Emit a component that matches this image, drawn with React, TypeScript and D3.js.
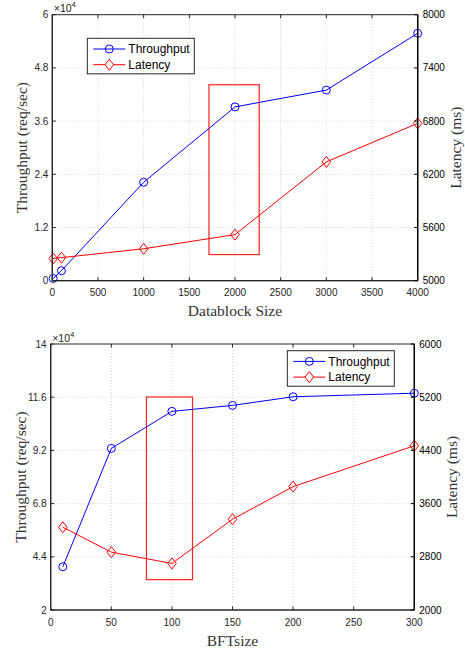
import { useEffect, useRef } from 'react';
import * as d3 from 'd3';

// Panel 1: Datablock size
const dbSizes = [10, 100, 1000, 2000, 3000, 4000];
const dbThroughput = [500, 2250, 22200, 39200, 43000, 55800];
const dbLatency = [5250, 5260, 5360, 5520, 6340, 6775];
const dbXTicks = [0, 500, 1000, 1500, 2000, 2500, 3000, 3500, 4000];
const dbYTicks = [0, 1.2, 2.4, 3.6, 4.8, 6];
const dbY2Ticks = [5000, 5600, 6200, 6800, 7400, 8000];
const dbBox = [1715, 2265, 5900, 44200];

// Panel 2: BFT size
const bftSizes = [10, 50, 100, 150, 200, 300];
const bftThroughput = [39500, 92900, 109600, 112300, 116200, 117800];
const bftLatency = [3245, 2870, 2700, 3365, 3855, 4470];
const bftXTicks = [0, 50, 100, 150, 200, 250, 300];
const bftYTicks = [2, 4.4, 6.8, 9.2, 11.6, 14];
const bftY2Ticks = [2000, 2800, 3600, 4400, 5200, 6000];
const bftBox = [79, 117, 33700, 116100];

const seriesNames = ['Throughput', 'Latency'];

interface PanelOpts {
  left: number; right: number; top: number; bottom: number;
  xs: number[]; thr: number[]; lat: number[];
  xTicks: number[]; yTicks: number[]; y2Ticks: number[];
  box: number[];
  xLabel: string;
  legend: [number, number];
}

const SANS = 'Liberation Sans, Arial, sans-serif';
const SERIF = 'Liberation Serif, Times New Roman, serif';

const diamond = (cx: number, cy: number) =>
  `M${cx},${cy - 5.5}L${cx + 4.3},${cy}L${cx},${cy + 5.5}L${cx - 4.3},${cy}Z`;

function drawPanel(root: d3.Selection<SVGGElement, unknown, null, undefined>, o: PanelOpts) {
  const x = d3.scaleLinear().domain([o.xTicks[0], o.xTicks[o.xTicks.length - 1]]).range([o.left, o.right]);
  const y = d3.scaleLinear().domain([o.yTicks[0] * 1e4, o.yTicks[o.yTicks.length - 1] * 1e4]).range([o.bottom, o.top]);
  const y2 = d3.scaleLinear().domain([o.y2Ticks[0], o.y2Ticks[o.y2Ticks.length - 1]]).range([o.bottom, o.top]);
  const g = root.append('g');

  // grid
  g.selectAll('.gx').data(o.xTicks.slice(1, -1)).enter().append('line')
    .attr('x1', d => x(d)).attr('x2', d => x(d)).attr('y1', o.top).attr('y2', o.bottom)
    .attr('stroke', '#c8c8c8').attr('stroke-width', 0.8).attr('stroke-dasharray', '1,2');
  g.selectAll('.gy').data(o.yTicks.slice(1, -1)).enter().append('line')
    .attr('x1', o.left).attr('x2', o.right).attr('y1', d => y(d * 1e4)).attr('y2', d => y(d * 1e4))
    .attr('stroke', '#c8c8c8').attr('stroke-width', 0.8).attr('stroke-dasharray', '1,2');

  // highlight box
  g.append('rect')
    .attr('x', x(o.box[0])).attr('y', y(o.box[3]))
    .attr('width', x(o.box[1]) - x(o.box[0])).attr('height', y(o.box[2]) - y(o.box[3]))
    .attr('fill', 'none').attr('stroke', '#ff2020').attr('stroke-width', 1.2);

  // lines
  const pts = o.xs.map((d, i) => ({ x: d, t: o.thr[i], l: o.lat[i] }));
  g.append('path').datum(pts)
    .attr('fill', 'none').attr('stroke', '#0000ff').attr('stroke-width', 1)
    .attr('d', d3.line<{ x: number; t: number }>().x(d => x(d.x)).y(d => y(d.t)));
  g.append('path').datum(pts)
    .attr('fill', 'none').attr('stroke', '#ff0000').attr('stroke-width', 1)
    .attr('d', d3.line<{ x: number; l: number }>().x(d => x(d.x)).y(d => y2(d.l)));
  g.selectAll('.mc').data(pts).enter().append('circle')
    .attr('cx', d => x(d.x)).attr('cy', d => y(d.t)).attr('r', 4)
    .attr('fill', 'none').attr('stroke', '#0000ff').attr('stroke-width', 1);
  g.selectAll('.md').data(pts).enter().append('path')
    .attr('d', d => diamond(x(d.x), y2(d.l)))
    .attr('fill', 'none').attr('stroke', '#ff0000').attr('stroke-width', 1);

  // axes frame
  g.append('rect')
    .attr('x', o.left).attr('y', o.top).attr('width', o.right - o.left).attr('height', o.bottom - o.top)
    .attr('fill', 'none').attr('stroke', '#262626').attr('stroke-width', 1);
  g.append('line').attr('x1', o.right).attr('x2', o.right).attr('y1', o.top).attr('y2', o.bottom)
    .attr('stroke', '#000').attr('stroke-width', 1.4);
  g.append('line').attr('x1', o.left).attr('x2', o.left).attr('y1', o.top).attr('y2', o.bottom)
    .attr('stroke', '#262626').attr('stroke-width', 1.2);
  g.append('line').attr('x1', o.left).attr('x2', o.right).attr('y1', o.bottom).attr('y2', o.bottom)
    .attr('stroke', '#262626').attr('stroke-width', 1.2);

  const tl = 3.5;
  // x ticks
  o.xTicks.forEach(t => {
    g.append('line').attr('x1', x(t)).attr('x2', x(t)).attr('y1', o.bottom).attr('y2', o.bottom - tl).attr('stroke', '#262626');
    g.append('line').attr('x1', x(t)).attr('x2', x(t)).attr('y1', o.top).attr('y2', o.top + tl).attr('stroke', '#262626');
    g.append('text').attr('x', x(t)).attr('y', o.bottom + 15.5)
      .attr('text-anchor', 'middle').attr('font-family', SANS).attr('font-size', 10).attr('fill', '#262626')
      .text(String(t));
  });
  // left y ticks
  o.yTicks.forEach(t => {
    g.append('line').attr('x1', o.left).attr('x2', o.left + tl).attr('y1', y(t * 1e4)).attr('y2', y(t * 1e4)).attr('stroke', '#262626');
    g.append('text').attr('x', o.left - 4).attr('y', y(t * 1e4) + 3.5)
      .attr('text-anchor', 'end').attr('font-family', SANS).attr('font-size', 10).attr('fill', '#262626')
      .text(String(t));
  });
  // right y ticks
  o.y2Ticks.forEach(t => {
    g.append('line').attr('x1', o.right).attr('x2', o.right - tl).attr('y1', y2(t)).attr('y2', y2(t)).attr('stroke', '#000');
    g.append('text').attr('x', o.right + 5).attr('y', y2(t) + 3.5)
      .attr('text-anchor', 'start').attr('font-family', SANS).attr('font-size', 10).attr('fill', '#000')
      .text(String(t));
  });

  // exponent
  const ex = g.append('text').attr('x', o.left + 1.5).attr('y', o.top - 2.5)
    .attr('font-family', SANS).attr('font-size', 10.5).attr('fill', '#262626');
  ex.append('tspan').text('×10');
  ex.append('tspan').attr('dy', -5).attr('font-size', 8).text('4');

  // axis labels
  const midY = (o.top + o.bottom) / 2;
  g.append('text').attr('x', (o.left + o.right) / 2).attr('y', o.bottom + 35.5)
    .attr('text-anchor', 'middle').attr('font-family', SERIF).attr('font-size', 15.5).attr('fill', '#333')
    .text(o.xLabel);
  g.append('text').attr('transform', `translate(${o.left - 25},${midY}) rotate(-90)`)
    .attr('text-anchor', 'middle').attr('font-family', SERIF).attr('font-size', 15.5).attr('fill', '#333')
    .text('Throughput (req/sec)');
  g.append('text').attr('transform', `translate(${o.right + 43},${midY}) rotate(-90)`)
    .attr('text-anchor', 'middle').attr('font-family', SERIF).attr('font-size', 15.5).attr('fill', '#333')
    .text('Latency (ms)');

  // legend
  const [lx, ly] = o.legend;
  const lg = g.append('g').attr('transform', `translate(${lx},${ly})`);
  lg.append('rect').attr('width', 107).attr('height', 35.5)
    .attr('fill', '#fff').attr('stroke', '#262626').attr('stroke-width', 1);
  seriesNames.forEach((name, i) => {
    const cy = 10.7 + i * 15.7;
    const col = i === 0 ? '#0000ff' : '#ff0000';
    lg.append('line').attr('x1', 6).attr('x2', 38).attr('y1', cy).attr('y2', cy).attr('stroke', col);
    if (i === 0) {
      lg.append('circle').attr('cx', 22).attr('cy', cy).attr('r', 4).attr('fill', 'none').attr('stroke', col);
    } else {
      lg.append('path').attr('d', diamond(22, cy)).attr('fill', '#fff').attr('stroke', col);
    }
    lg.append('text').attr('x', 41).attr('y', cy + 4.3)
      .attr('font-family', SANS).attr('font-size', 12).attr('fill', '#000').text(name);
  });
}

export default function App() {
  const ref = useRef<SVGSVGElement | null>(null);

  useEffect(() => {
    const svg = d3.select(ref.current);
    svg.selectAll('*').remove();
    const root = svg.append('g') as unknown as d3.Selection<SVGGElement, unknown, null, undefined>;
    drawPanel(root, {
      left: 52.3, right: 417.7, top: 14.7, bottom: 280.7,
      xs: dbSizes, thr: dbThroughput, lat: dbLatency,
      xTicks: dbXTicks, yTicks: dbYTicks, y2Ticks: dbY2Ticks,
      box: dbBox, xLabel: 'Datablock Size', legend: [87.3, 38.3],
    });
    drawPanel(root, {
      left: 50.7, right: 414.3, top: 344, bottom: 610,
      xs: bftSizes, thr: bftThroughput, lat: bftLatency,
      xTicks: bftXTicks, yTicks: bftYTicks, y2Ticks: bftY2Ticks,
      box: bftBox, xLabel: 'BFTsize', legend: [287.3, 350.7],
    });
  }, []);

  return (
    <svg
      ref={ref}
      width={465}
      height={649}
      style={{ position: 'absolute', left: 0, top: 0, background: '#fff' }}
    />
  );
}
